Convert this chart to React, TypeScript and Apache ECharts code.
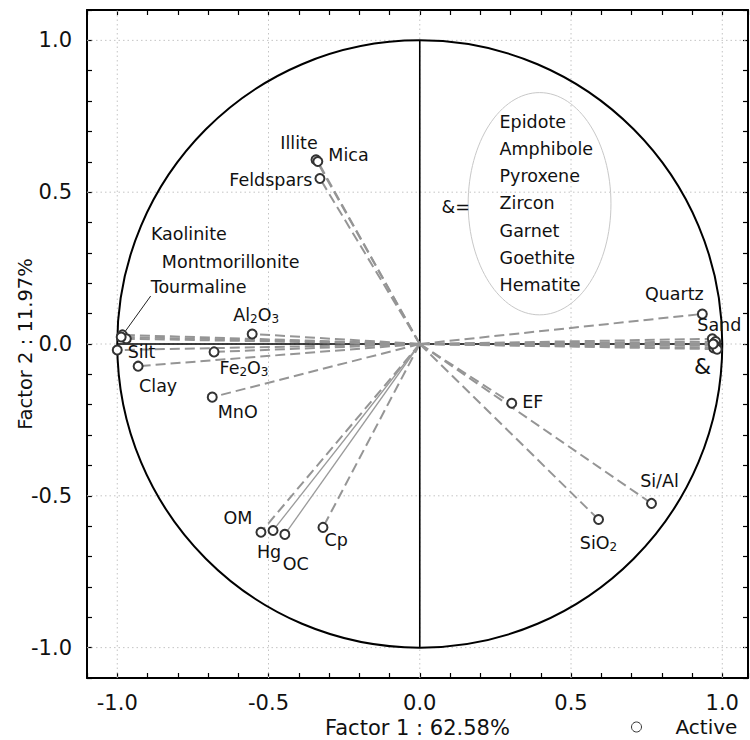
import React, { useEffect, useRef } from 'react';
import * as echarts from 'echarts';

// ---- data ----
const ellipseMinerals = ['Epidote', 'Amphibole', 'Pyroxene', 'Zircon', 'Garnet', 'Goethite', 'Hematite'];
const variableNames = [
  'Illite', 'Mica', 'Feldspars', 'Kaolinite', 'Montmorillonite', 'Tourmaline', 'Al2O3', 'Silt', 'Clay',
  'Fe2O3', 'MnO', 'OM', 'Hg', 'OC', 'Cp', 'EF', 'SiO2', 'Si/Al', 'Quartz', 'Sand',
  ...ellipseMinerals,
];
const factor1 = [
  -0.343, -0.337, -0.330, -0.983, -0.970, -0.987, -0.554, -1.000, -0.931,
  -0.680, -0.686, -0.525, -0.485, -0.446, -0.320, 0.304, 0.591, 0.766, 0.934, 0.967,
  0.975, 0.980, 0.972, 0.978, 0.974, 0.983, 0.970,
];
const factor2 = [
  0.607, 0.601, 0.545, 0.030, 0.017, 0.023, 0.033, -0.020, -0.073,
  -0.026, -0.175, -0.620, -0.614, -0.627, -0.604, -0.195, -0.578, -0.525, 0.099, 0.017,
  0.003, -0.006, -0.013, 0.008, -0.003, -0.017, 0.000,
];
const solidVectors = ['Hg', 'OC'];
const gridValues = [-1, -0.5, 0, 0.5, 1];
const xTitle = 'Factor 1 : 62.58%';
const yTitle = 'Factor 2 : 11.97%';
const legendName = 'Active';

// annotation ellipse (data units)
const ellipseCenter = [0.396, 0.462];
const ellipseRadii = [0.236, 0.366];

const FONT = 'DejaVu Sans';
const TXT = '#111';

const richNames: Record<string, string> = {
  Al2O3: '{n|Al}{s|2}{n|O}{s|3}',
  Fe2O3: '{n|Fe}{s|2}{n|O}{s|3}',
  SiO2: '{n|SiO}{s|2}',
};

const labelCfg: Record<string, any> = {
  Illite: { position: 'top', offset: [-17, 3] },
  Mica: { position: 'right', offset: [0, -7] },
  Feldspars: { position: 'left', offset: [3, 1] },
  Kaolinite: { position: 'right', offset: [18, -101] },
  Montmorillonite: { position: 'right', offset: [25, -77] },
  Tourmaline: { position: 'right', offset: [19, -50], line: true },
  Al2O3: { position: 'top', offset: [4, 2] },
  Silt: { position: 'right', offset: [0, 2] },
  Clay: { position: 'bottom', offset: [20, 0] },
  Fe2O3: { position: 'right', offset: [-5, 16] },
  MnO: { position: 'right', offset: [-5, 15] },
  OM: { position: 'left', offset: [2, -14] },
  Hg: { position: 'bottom', offset: [-4, 2] },
  OC: { position: 'bottom', offset: [11, 10] },
  Cp: { position: 'right', offset: [-9, 13] },
  EF: { position: 'right', offset: [0, -1] },
  SiO2: { position: 'bottom', offset: [0, 3] },
  'Si/Al': { position: 'top', offset: [8, -3] },
  Quartz: { position: 'top', offset: [-28, 0] },
  Sand: { position: 'top', offset: [7, 6] },
  Zircon: { position: 'bottom', offset: [-13, 3], text: '&', fontSize: 22 },
};

const X_MIN = -1.1;
const X_MAX = 1.085;
const Y_MIN = -1.1;
const Y_MAX = 1.1;

function tickLabel(v: number) {
  return Math.abs(v * 2 - Math.round(v * 2)) < 1e-6 ? v.toFixed(1) : '';
}

export default function App() {
  const ref = useRef<HTMLDivElement>(null);

  useEffect(() => {
    if (!ref.current) return;
    const chart = echarts.init(ref.current, undefined, { renderer: 'svg' });

    const points = variableNames.map((name, i) => {
      const cfg = labelCfg[name];
      const item: any = { name, value: [factor1[i], factor2[i]] };
      if (cfg) {
        item.label = {
          show: true,
          position: cfg.position,
          offset: cfg.offset,
          formatter: cfg.text ? cfg.text : richNames[name] || name,
          fontSize: cfg.fontSize || 17.5,
          color: TXT,
        };
        if (cfg.line) {
          item.labelLine = { show: true, lineStyle: { color: '#222', width: 1 } };
        }
      } else {
        item.label = { show: false };
      }
      return item;
    });

    const axisCommon = {
      type: 'value',
      interval: 0.1,
      axisLine: { show: true, onZero: false, lineStyle: { color: '#000', width: 2 } },
      axisTick: { show: true, inside: true, length: 5, lineStyle: { color: '#000', width: 1.2 } },
      splitLine: { show: false },
    };

    const option: any = {
      animation: false,
      backgroundColor: '#fff',
      textStyle: { fontFamily: FONT },
      grid: {
        left: 87,
        top: 10,
        width: 661,
        height: 668,
        containLabel: false,
        outerBoundsMode: 'none',
      },
      legend: {
        data: [{ name: legendName, icon: 'circle', itemStyle: { color: '#fff', borderColor: '#333', borderWidth: 1 } }],
        left: 631,
        top: 717,
        itemWidth: 10,
        itemHeight: 10,
        padding: 0,
        textStyle: { fontFamily: FONT, fontSize: 20, color: TXT, padding: [0, 0, 0, 29] },
      },
      xAxis: [
        {
          ...axisCommon,
          min: X_MIN,
          max: X_MAX,
          position: 'bottom',
          name: xTitle,
          nameLocation: 'middle',
          nameGap: 39,
          nameMoveOverlap: false,
          nameTextStyle: { fontFamily: FONT, fontSize: 21, color: TXT },
          axisLabel: {
            show: true,
            margin: 14,
            fontFamily: FONT,
            fontSize: 21,
            color: TXT,
            formatter: tickLabel,
            showMinLabel: true,
            showMaxLabel: true,
          },
        },
        {
          ...axisCommon,
          min: X_MIN,
          max: X_MAX,
          position: 'top',
          axisLabel: { show: false },
        },
      ],
      yAxis: [
        {
          ...axisCommon,
          min: Y_MIN,
          max: Y_MAX,
          position: 'left',
          name: yTitle,
          nameLocation: 'middle',
          nameGap: 52,
          nameMoveOverlap: false,
          nameTextStyle: { fontFamily: FONT, fontSize: 19.5, color: TXT },
          axisLabel: {
            show: true,
            margin: 15,
            fontFamily: FONT,
            fontSize: 21,
            color: TXT,
            formatter: tickLabel,
          },
        },
        {
          ...axisCommon,
          min: Y_MIN,
          max: Y_MAX,
          position: 'right',
          axisLabel: { show: false },
        },
      ],
      series: [
        {
          type: 'custom',
          name: 'frame',
          coordinateSystem: 'cartesian2d',
          silent: true,
          z: 1,
          data: [[0, 0]],
          renderItem: (params: any, api: any) => {
            const children: any[] = [];
            gridValues.forEach((v) => {
              const a = api.coord([v, Y_MIN]);
              const b = api.coord([v, Y_MAX]);
              children.push({
                type: 'line',
                shape: { x1: a[0], y1: a[1], x2: b[0], y2: b[1] },
                style: { stroke: '#c4c4c4', lineWidth: 1, lineDash: [1.5, 3] },
              });
              const c = api.coord([X_MIN, v]);
              const d = api.coord([X_MAX, v]);
              children.push({
                type: 'line',
                shape: { x1: c[0], y1: c[1], x2: d[0], y2: d[1] },
                style: { stroke: '#c4c4c4', lineWidth: 1, lineDash: [1.5, 3] },
              });
            });
            const o = api.coord([0, 0]);
            const unit = api.size([1, 1]);
            const l = api.coord([-1, 0]);
            const r = api.coord([1, 0]);
            const t = api.coord([0, 1]);
            const bt = api.coord([0, -1]);
            children.push({
              type: 'line',
              shape: { x1: l[0], y1: l[1], x2: r[0], y2: r[1] },
              style: { stroke: '#000', lineWidth: 1.6 },
            });
            children.push({
              type: 'line',
              shape: { x1: t[0], y1: t[1], x2: bt[0], y2: bt[1] },
              style: { stroke: '#000', lineWidth: 1.6 },
            });
            children.push({
              type: 'ellipse',
              shape: { cx: o[0], cy: o[1], rx: unit[0], ry: unit[1] },
              style: { stroke: '#000', lineWidth: 2, fill: 'none' },
            });
            // annotation ellipse with grouped minerals
            const ec = api.coord(ellipseCenter);
            const er = api.size(ellipseRadii);
            children.push({
              type: 'ellipse',
              shape: { cx: ec[0], cy: ec[1], rx: er[0], ry: er[1] },
              style: { stroke: '#c8c8c8', lineWidth: 1, fill: 'none' },
            });
            ellipseMinerals.forEach((m, i) => {
              children.push({
                type: 'text',
                x: ec[0] - 40,
                y: ec[1] - 82 + i * 27.2,
                style: {
                  text: m,
                  fill: TXT,
                  fontSize: 17.5,
                  fontFamily: FONT,
                  align: 'left',
                  verticalAlign: 'middle',
                },
              });
            });
            children.push({
              type: 'text',
              x: ec[0] - 98,
              y: ec[1] + 3,
              style: {
                text: '&=',
                fill: TXT,
                fontSize: 17.5,
                fontFamily: FONT,
                align: 'left',
                verticalAlign: 'middle',
              },
            });
            return { type: 'group', children };
          },
        },
        {
          type: 'custom',
          name: 'vectors',
          coordinateSystem: 'cartesian2d',
          silent: true,
          z: 2,
          data: variableNames.map((n, i) => [factor1[i], factor2[i]]),
          renderItem: (params: any, api: any) => {
            const o = api.coord([0, 0]);
            const p = api.coord([api.value(0), api.value(1)]);
            const solid = solidVectors.indexOf(variableNames[params.dataIndex]) >= 0;
            return {
              type: 'line',
              shape: { x1: o[0], y1: o[1], x2: p[0], y2: p[1] },
              style: solid
                ? { stroke: '#9a9a9a', lineWidth: 1.3 }
                : { stroke: '#959595', lineWidth: 2, lineDash: [10, 5] },
            };
          },
        },
        {
          type: 'scatter',
          name: legendName,
          z: 3,
          symbol: 'emptyCircle',
          symbolSize: 9,
          itemStyle: { color: '#333', borderWidth: 1.2, opacity: 1 },
          label: {
            fontFamily: FONT,
            fontSize: 17.5,
            color: TXT,
            rich: {
              n: { fontFamily: FONT, fontSize: 17.5, color: TXT },
              s: { fontFamily: FONT, fontSize: 12, color: TXT, padding: [8, 0, 0, 0] },
            },
          },
          labelLine: { show: false },
          data: points,
        },
      ],
    };

    chart.setOption(option);
    return () => chart.dispose();
  }, []);

  return (
    <div
      ref={ref}
      style={{ position: 'absolute', left: 0, top: 0, width: 750, height: 740, background: '#fff' }}
    />
  );
}
